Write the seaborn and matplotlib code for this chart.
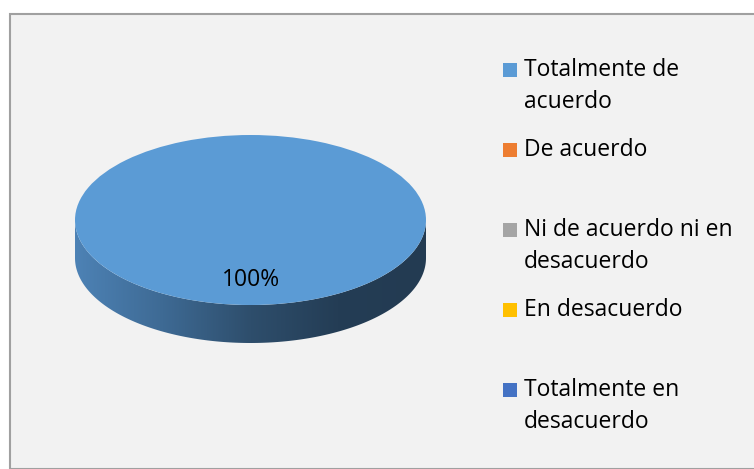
import numpy as np
import matplotlib
matplotlib.use('Agg')
import matplotlib.pyplot as plt
import seaborn as sns
from matplotlib.patches import Rectangle, PathPatch
from matplotlib.path import Path
from matplotlib.colors import LinearSegmentedColormap

# data
categories = ['Totalmente de\nacuerdo', 'De acuerdo', 'Ni de acuerdo ni en\ndesacuerdo',
              'En desacuerdo', 'Totalmente en\ndesacuerdo']
values = [100, 0, 0, 0, 0]
colors = ['#5B9BD5', '#ED7D31', '#A5A5A5', '#FFC000', '#4472C4']

sns.set_theme(style='white')
plt.rcParams['font.family'] = ['Open Sans', 'DejaVu Sans']

W, H = 754, 469
fig = plt.figure(figsize=(W / 100, H / 100), dpi=100)
fig.patch.set_facecolor('white')

# chart area panel
fig.patches.append(Rectangle((9.5 / W, 0), 1, 1 - 14.5 / H, transform=fig.transFigure,
                             facecolor='#F2F2F2', edgecolor='#A0A0A0', linewidth=1.5, zorder=-5))

# pie axes: top ellipse x 75..426, y 135..305 ; side down to 343
depth = 38 / 85.0
left, right, top, bottom = 75, 426, 135, 343
ax = fig.add_axes([left / W, 1 - bottom / H, (right - left) / W, (bottom - top) / H])
ax.set_facecolor('none')
ax.set_zorder(1)

# side of the 3D pie (horizontal gradient)
t = np.linspace(np.pi, 2 * np.pi, 200)
xs = np.cos(t)
ys = np.sin(t)
verts = list(zip(xs, ys)) + list(zip(xs[::-1], ys[::-1] - depth))
side_path = Path(verts + [verts[0]], closed=True)
cmap = LinearSegmentedColormap.from_list('side', ['#4D82B5', '#3E6A94', '#2E4E6C', '#243D55', '#233B52'])
grad = np.linspace(0, 1, 256).reshape(1, -1)
im = ax.imshow(grad, cmap=cmap, extent=[-1, 1, -1 - depth, 0], aspect='auto', zorder=1)
clip = PathPatch(side_path, transform=ax.transData, facecolor='none', edgecolor='none')
ax.add_patch(clip)
im.set_clip_path(clip)

# top of the pie
wedges, texts, autotexts = ax.pie(
    values, colors=colors, startangle=90, counterclock=False, radius=1,
    autopct=lambda p: f'{p:.0f}%' if p > 0 else '', pctdistance=0.7,
    wedgeprops=dict(linewidth=0), textprops=dict(fontsize=16.5, color='black'))
for w in wedges:
    w.set_zorder(2)
for a in autotexts:
    a.set_zorder(3)

ax.set_aspect('auto')
ax.set_xlim(-1, 1)
ax.set_ylim(-1 - depth, 1)
ax.axis('off')

# legend drawn manually
leg_y = [70, 150, 230, 310, 390]
line_h = 32
for lab, col, y in zip(categories, colors, leg_y):
    fig.patches.append(Rectangle((503 / W, 1 - (y + 7) / H), 14 / W, 14 / H,
                                 transform=fig.transFigure, facecolor=col,
                                 edgecolor='none', zorder=2))
    for i, line in enumerate(lab.split('\n')):
        fig.text(524 / W, 1 - (y + i * line_h) / H, line, fontsize=16.5,
                 ha='left', va='center', color='black')

fig.savefig('out.png', dpi=100, facecolor=fig.get_facecolor())
